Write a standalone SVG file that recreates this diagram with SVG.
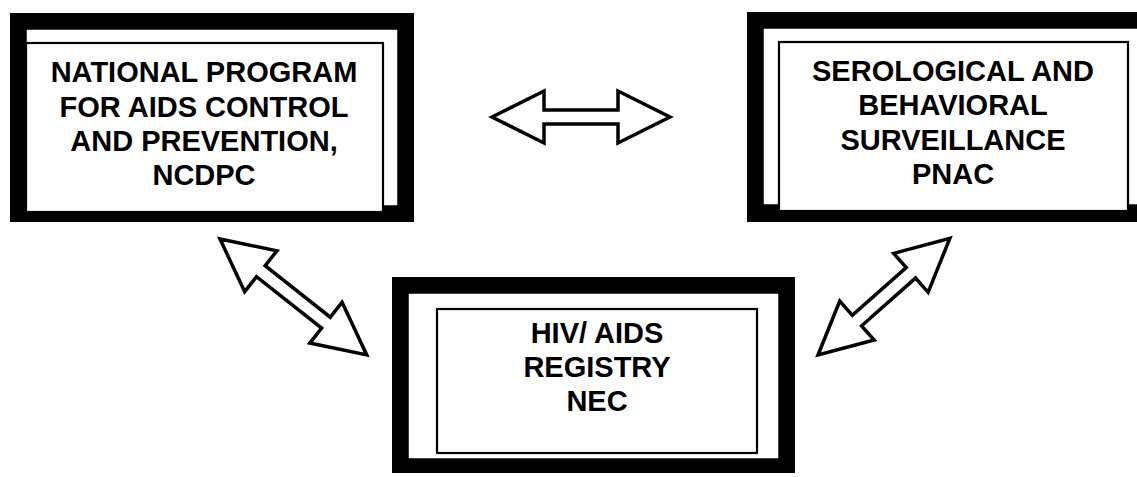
<svg xmlns="http://www.w3.org/2000/svg" width="1137" height="477" viewBox="0 0 1137 477">
<style>
.frame{fill:#000}
.back{fill:#fff;stroke:#000;stroke-width:1.5}
.front{fill:#fff;stroke:#000;stroke-width:2.2}
.lbl{font-family:"Liberation Sans",Arial,sans-serif;font-weight:bold;font-size:29px;fill:#000;text-anchor:middle}
.arrow{fill:#fff;stroke:#000;stroke-width:3.5;stroke-linejoin:miter}
</style>
<rect width="1137" height="477" fill="#fff"/>
<g id="node-ncdpc">
<rect class="frame" x="10" y="13" width="404" height="209"/>
<rect class="back" x="26" y="29" width="372" height="177"/>
<rect class="front" x="26" y="43" width="357" height="169"/>
<text class="lbl" x="204" y="82">NATIONAL PROGRAM</text>
<text class="lbl" x="204" y="117">FOR AIDS CONTROL</text>
<text class="lbl" x="204" y="151">AND PREVENTION,</text>
<text class="lbl" x="204" y="185">NCDPC</text>
</g>
<g id="node-pnac">
<rect class="frame" x="747" y="12" width="410" height="210"/>
<rect class="back" x="763" y="28" width="380" height="177"/>
<rect class="front" x="779" y="42" width="349" height="169"/>
<text class="lbl" x="953" y="81">SEROLOGICAL AND</text>
<text class="lbl" x="953" y="115">BEHAVIORAL</text>
<text class="lbl" x="953" y="150">SURVEILLANCE</text>
<text class="lbl" x="953" y="184">PNAC</text>
</g>
<g id="node-nec">
<rect class="frame" x="392" y="277" width="403" height="196"/>
<rect class="back" x="408" y="293" width="371" height="166"/>
<rect class="front" x="437" y="309" width="320" height="144"/>
<text class="lbl" x="597" y="343">HIV/ AIDS</text>
<text class="lbl" x="597" y="377">REGISTRY</text>
<text class="lbl" x="597" y="411">NEC</text>
</g>
<g id="connectors">
<path class="arrow" transform="translate(492,117)" d="M0,0 L52,-26 L52,-7 L126,-7 L126,-26 L178,0 L126,26 L126,7 L52,7 L52,26 Z"/>
<path class="arrow" transform="translate(220,239) rotate(38.3)" d="M0,0 L52,-26 L52,-7 L135,-7 L135,-26 L187,0 L135,26 L135,7 L52,7 L52,26 Z"/>
<path class="arrow" transform="translate(818,355) rotate(-41.5)" d="M0,0 L52,-26 L52,-7 L124,-7 L124,-26 L176,0 L124,26 L124,7 L52,7 L52,26 Z"/>
</g>
</svg>
